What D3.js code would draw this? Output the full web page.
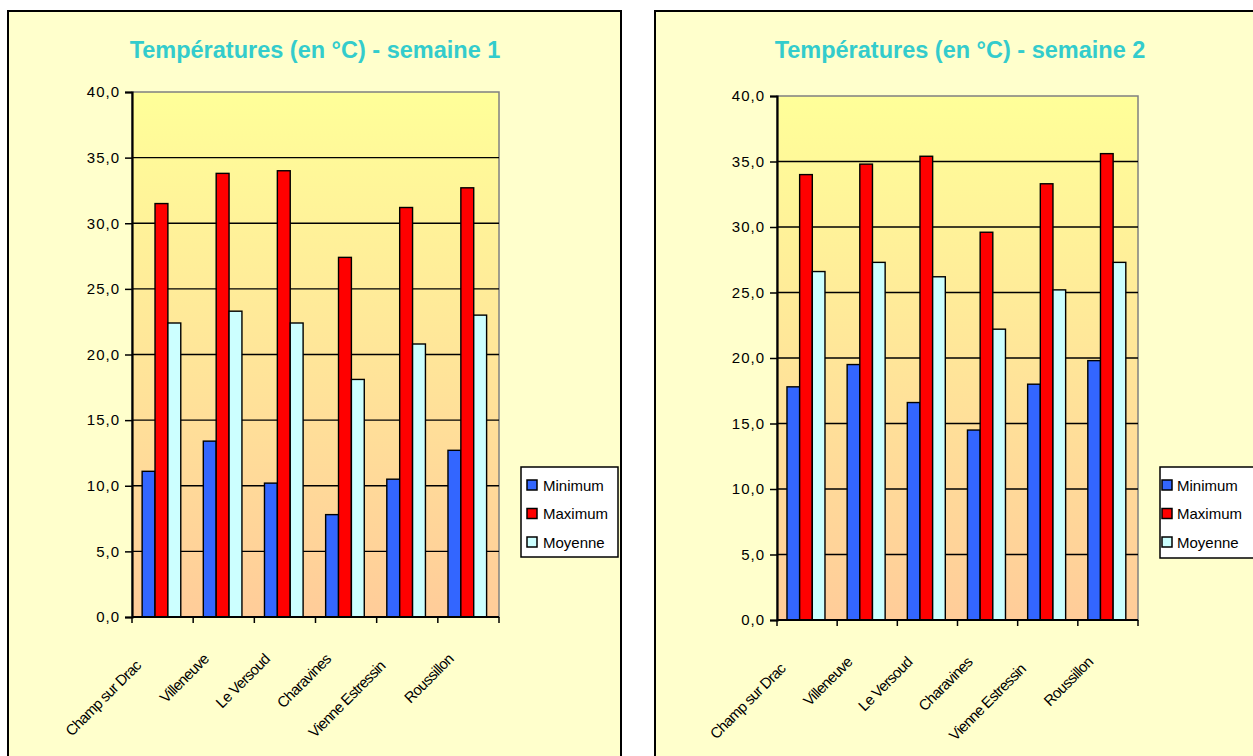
<!DOCTYPE html>
<html>
<head>
<meta charset="utf-8">
<script src="https://cdn.jsdelivr.net/npm/d3@7"></script>
<style>
  body { margin: 0; background: #fff; }
  svg { display: block; font-family: "Liberation Sans", Arial, sans-serif; }
</style>
</head>
<body>
<div id="chart"></div>
<script>
// données
const categories = ["Champ sur Drac", "Villeneuve", "Le Versoud", "Charavines", "Vienne Estressin", "Roussillon"];
const series = ["Minimum", "Maximum", "Moyenne"];
const seriesColors = ["#3366FF", "#FF0000", "#CCFFFF"];

const week1Min = [11.1, 13.4, 10.2, 7.8, 10.5, 12.7];
const week1Max = [31.5, 33.8, 34.0, 27.4, 31.2, 32.7];
const week1Avg = [22.4, 23.3, 22.4, 18.1, 20.8, 23.0];

const week2Min = [17.8, 19.5, 16.6, 14.5, 18.0, 19.8];
const week2Max = [34.0, 34.8, 35.4, 29.6, 33.3, 35.6];
const week2Avg = [26.6, 27.3, 26.2, 22.2, 25.2, 27.3];

const yTicks = [0, 5, 10, 15, 20, 25, 30, 35, 40];
const titles = ["Températures (en °C) - semaine 1", "Températures (en °C) - semaine 2"];

// mise en page des deux graphiques
const panels = [
    {title: titles[0], values: [week1Min, week1Max, week1Avg],
     frame: {x: 8, y: 11, w: 613, h: 760},
     plot: {left: 132, right: 499, top: 92, bottom: 617},
     titleX: 315, legend: {x: 521, y: 467, w: 97, h: 90, pad: 6, gap: 6}},
    {title: titles[1], values: [week2Min, week2Max, week2Avg],
     frame: {x: 655, y: 11, w: 613, h: 760},
     plot: {left: 777, right: 1138, top: 96, bottom: 620},
     titleX: 960, legend: {x: 1160, y: 467, w: 97, h: 91, pad: 2, gap: 5}}
];

const svg = d3.select("#chart")
    .append("svg")
    .attr("width", 1253)
    .attr("height", 756);

const defs = svg.append("defs");
const grad = defs.append("linearGradient")
    .attr("id", "plotGrad")
    .attr("x1", 0).attr("y1", 0).attr("x2", 0).attr("y2", 1);
grad.append("stop").attr("offset", "0%").attr("stop-color", "#FFFF99");
grad.append("stop").attr("offset", "100%").attr("stop-color", "#FFCC99");

panels.forEach(p => drawPanel(p));

function drawPanel(p) {
    const g = svg.append("g");
    const f = p.frame, pl = p.plot;

    g.append("rect")
        .attr("x", f.x).attr("y", f.y)
        .attr("width", f.w).attr("height", f.h)
        .attr("fill", "#FFFFCC")
        .attr("stroke", "#000")
        .attr("stroke-width", 2);

    g.append("text")
        .attr("x", p.titleX).attr("y", 58)
        .attr("text-anchor", "middle")
        .style("font-size", "23.5px")
        .style("font-weight", "bold")
        .style("fill", "#33CCCC")
        .text(p.title);

    const y = d3.scaleLinear().domain([0, 40]).range([pl.bottom, pl.top]);
    const x = d3.scaleBand().domain(categories).range([pl.left, pl.right]).padding(0);
    const xs = d3.scaleBand().domain(series).range([0, x.bandwidth()])
        .paddingInner(0).paddingOuter(0.875).align(0.45);

    // fond de la zone de traçage
    g.append("rect")
        .attr("x", pl.left).attr("y", pl.top)
        .attr("width", pl.right - pl.left).attr("height", pl.bottom - pl.top)
        .attr("fill", "url(#plotGrad)")
        .attr("stroke", "#808080")
        .attr("stroke-width", 1.5);

    // quadrillage
    g.append("g").selectAll("line")
        .data(yTicks.filter(d => d > 0 && d < 40))
        .enter().append("line")
        .attr("x1", pl.left).attr("x2", pl.right)
        .attr("y1", d => y(d)).attr("y2", d => y(d))
        .attr("stroke", "#000")
        .attr("stroke-width", 1.3);

    // barres
    const rows = categories.map((c, i) => ({cat: c, vals: series.map((s, k) => ({s: s, k: k, v: p.values[k][i]}))}));
    g.append("g").selectAll("g")
        .data(rows)
        .enter().append("g")
        .attr("transform", d => "translate(" + x(d.cat) + ",0)")
        .selectAll("rect")
        .data(d => d.vals)
        .enter().append("rect")
        .attr("x", d => xs(d.s))
        .attr("y", d => y(d.v))
        .attr("width", xs.bandwidth())
        .attr("height", d => y(0) - y(d.v))
        .attr("fill", d => seriesColors[d.k])
        .attr("stroke", "#000")
        .attr("stroke-width", 1.4);

    // axe vertical
    const yAxis = g.append("g")
        .attr("transform", "translate(" + pl.left + ",0)")
        .call(d3.axisLeft(y).tickValues(yTicks).tickSize(7).tickPadding(5)
            .tickFormat(d => d3.format(".1f")(d).replace(".", ",")));
    yAxis.select(".domain").attr("stroke", "#000").attr("stroke-width", 2.2);
    yAxis.selectAll(".tick line").attr("stroke", "#000").attr("stroke-width", 1.5);
    yAxis.selectAll("text")
        .style("font-size", "15px")
        .style("letter-spacing", "1px")
        .style("fill", "#000")
        .style("font-family", "'Liberation Sans', Arial, sans-serif");

    // axe horizontal
    const xAxis = g.append("g")
        .attr("transform", "translate(0," + pl.bottom + ")");
    xAxis.append("line")
        .attr("x1", pl.left).attr("x2", pl.right)
        .attr("stroke", "#000").attr("stroke-width", 2.2);
    const bounds = categories.map(c => x(c)).concat([pl.right]);
    xAxis.selectAll("line.tk")
        .data(bounds)
        .enter().append("line")
        .attr("class", "tk")
        .attr("x1", d => d).attr("x2", d => d)
        .attr("y1", 0).attr("y2", 6)
        .attr("stroke", "#000").attr("stroke-width", 1.5);

    xAxis.selectAll("text.lbl")
        .data(categories)
        .enter().append("text")
        .attr("class", "lbl")
        .attr("text-anchor", "end")
        .style("font-size", "15px")
        .style("letter-spacing", "-0.7px")
        .style("fill", "#000")
        .text(d => d)
        .attr("transform", function(d) {
            const len = this.getComputedTextLength();
            const s = 0.3 * Math.max(0, len - 68) * Math.SQRT1_2;
            const cx = x(d) + x.bandwidth() / 2;
            return "translate(" + (cx - 14 - s) + "," + (43 + s) + ") rotate(-45)";
        });

    // légende
    const lg = p.legend;
    const leg = g.append("g").attr("transform", "translate(" + lg.x + "," + lg.y + ")");
    leg.append("rect")
        .attr("width", lg.w).attr("height", lg.h)
        .attr("fill", "#fff")
        .attr("stroke", "#000").attr("stroke-width", 1.5);
    const item = leg.selectAll("g.item")
        .data(series)
        .enter().append("g")
        .attr("class", "item")
        .attr("transform", (d, i) => "translate(" + lg.pad + "," + (18 + i * 28.5) + ")");
    item.append("rect")
        .attr("x", 0).attr("y", -5)
        .attr("width", 10).attr("height", 10)
        .attr("fill", (d, i) => seriesColors[i])
        .attr("stroke", "#000").attr("stroke-width", 1.5);
    item.append("text")
        .attr("x", 10 + lg.gap).attr("y", 5.5)
        .style("font-size", "15px")
        .style("fill", "#000")
        .text(d => d);
}
</script>
</body>
</html>
